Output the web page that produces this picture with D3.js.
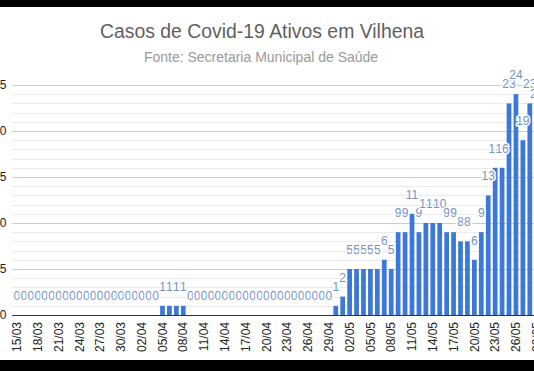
<!DOCTYPE html>
<html>
<head>
<meta charset="utf-8">
<script src="https://cdn.jsdelivr.net/npm/d3@7"></script>
<style>
  body { margin: 0; background: #fff; }
  svg { display: block; font-family: "Liberation Sans", Arial, sans-serif; }
</style>
</head>
<body>
<div id="chart_area"></div>
<script>
// Dates (categories)
var dates = [
  "15/03","16/03","17/03","18/03","19/03","20/03","21/03","22/03","23/03","24/03","25/03",
  "26/03","27/03","28/03","29/03","30/03","31/03","01/04","02/04","03/04","04/04",
  "05/04","06/04","07/04","08/04",
  "09/04","10/04","11/04","12/04","13/04","14/04","15/04","16/04","17/04","18/04","19/04",
  "20/04","21/04","22/04","23/04","24/04","25/04","26/04","27/04","28/04","29/04",
  "30/04","01/05","02/05","03/05","04/05","05/05","06/05","07/05","08/05",
  "09/05","10/05","11/05","12/05","13/05","14/05","15/05","16/05","17/05","18/05","19/05",
  "20/05","21/05","22/05","23/05","24/05","25/05","26/05","27/05","28/05","29/05"
];

// Active cases per day
var casos = [
  0,0,0,0,0,0,0,0,0,0,0, 0,0,0,0,0,0,0,0,0,0,
  1,1,1,1,
  0,0,0,0,0,0,0,0,0,0,0, 0,0,0,0,0,0,0,0,0,0,
  1,2,5,5,5,5,5,6,5,
  9,9,11,9,10,10,10,9,9,8,8,
  6,9,13,16,16,23,24,19,23,22
];

var tickLabels = ["15/03","18/03","21/03","24/03","27/03","30/03","02/04","05/04","08/04",
  "11/04","14/04","17/04","20/04","23/04","26/04","29/04","02/05","05/05","08/05",
  "11/05","14/05","17/05","20/05","23/05","26/05","29/05"];
var yTicks = [0, 5, 10, 15, 20, 25];

var title = "Casos de Covid-19 Ativos em Vilhena";
var subtitle = "Fonte: Secretaria Municipal de Saúde";

// Frame
var frame_width = 534, frame_height = 371;
var frame = d3.select("#chart_area").append("svg")
    .attr("width", frame_width)
    .attr("height", frame_height);

frame.append("rect").attr("width", frame_width).attr("height", frame_height).attr("fill", "#fff");

// Scales
var xScale = d3.scaleBand().domain(dates).range([13.5, 540.2])
    .paddingInner(0.32).paddingOuter(0.16);
var yScale = d3.scaleLinear().domain([0, 25]).range([315, 85]);

var plotLeft = 12, plotRight = frame_width;

// Gridlines (minor every 1, major every 5)
var grid = frame.append("g").attr("class", "grid");
grid.selectAll("line")
    .data(d3.range(1, 26))
    .enter().append("line")
    .attr("x1", plotLeft).attr("x2", plotRight)
    .attr("y1", function(d) { return Math.round(yScale(d)) + 0.5; })
    .attr("y2", function(d) { return Math.round(yScale(d)) + 0.5; })
    .attr("stroke", function(d) { return d % 5 === 0 ? "#cccccc" : "#ebebeb"; })
    .attr("stroke-width", 1);

// Bars
var bars = frame.append("g").attr("class", "bars");
bars.selectAll("rect")
    .data(casos)
    .enter().append("rect")
    .attr("x", function(d, i) { return xScale(dates[i]); })
    .attr("width", xScale.bandwidth())
    .attr("y", function(d) { return yScale(d); })
    .attr("height", function(d) { return yScale(0) - yScale(d); })
    .attr("fill", "#3c78d8");

// Baseline
frame.append("line")
    .attr("x1", plotLeft).attr("x2", plotRight)
    .attr("y1", 315.5).attr("y2", 315.5)
    .attr("stroke", "#333").attr("stroke-width", 1);

// Data labels
var labels = frame.append("g").attr("class", "data-labels");
labels.selectAll("text")
    .data(casos)
    .enter().append("text")
    .attr("x", function(d, i) { return xScale(dates[i]) + xScale.bandwidth() / 2; })
    .attr("y", function(d) { return yScale(d) - 15; })
    .attr("text-anchor", "middle")
    .attr("font-size", 12)
    .attr("fill", "#7393c9")
    .attr("stroke", "#fff")
    .attr("stroke-width", 3)
    .attr("paint-order", "stroke")
    .text(function(d) { return d; });

// X axis
var xAxis = d3.axisBottom(xScale).tickValues(tickLabels).tickSize(0);
var gx = frame.append("g")
    .attr("class", "x axis")
    .attr("transform", "translate(0,315)")
    .call(xAxis);
gx.select(".domain").remove();
gx.selectAll("text")
    .attr("transform", "rotate(-90)")
    .attr("x", -7).attr("y", 0).attr("dy", ".35em")
    .attr("text-anchor", "end")
    .attr("font-size", 12)
    .attr("font-family", "Liberation Sans, Arial, sans-serif")
    .attr("fill", "#222");

// Y axis
var yAxis = d3.axisLeft(yScale).tickValues(yTicks).tickSize(0).tickPadding(0);
var gy = frame.append("g")
    .attr("class", "y axis")
    .attr("transform", "translate(6.5,0)")
    .call(yAxis);
gy.select(".domain").remove();
gy.selectAll("text")
    .attr("font-size", 12)
    .attr("font-family", "Liberation Sans, Arial, sans-serif")
    .attr("fill", "#222");

// Titles
frame.append("text")
    .attr("x", 262).attr("y", 37.5)
    .attr("text-anchor", "middle")
    .attr("font-size", 19.4)
    .attr("fill", "#5f5f5f")
    .text(title);

frame.append("text")
    .attr("x", 261).attr("y", 62)
    .attr("text-anchor", "middle")
    .attr("font-size", 14)
    .attr("fill", "#999")
    .text(subtitle);

// Black bands from the original screenshot
frame.append("rect").attr("x", 0).attr("y", 0).attr("width", frame_width).attr("height", 7).attr("fill", "#000");
frame.append("rect").attr("x", 0).attr("y", 360).attr("width", frame_width).attr("height", 11).attr("fill", "#000");
</script>
</body>
</html>
